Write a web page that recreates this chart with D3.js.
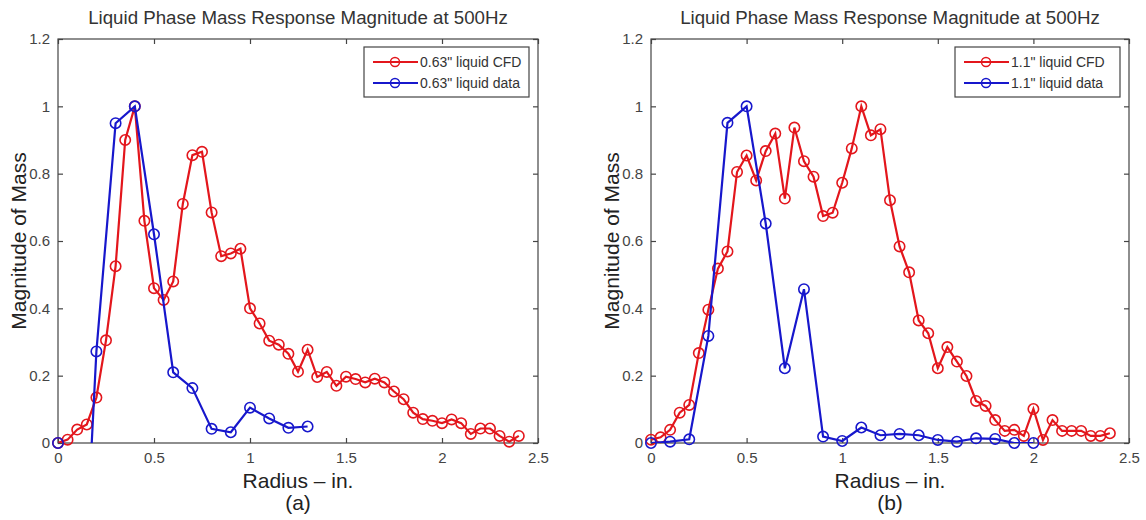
<!DOCTYPE html>
<html>
<head>
<meta charset="utf-8">
<script src="https://cdn.jsdelivr.net/npm/d3@7"></script>
<style>
  body { margin: 0; background: #fff; }
  text { font-family: "Liberation Sans", Arial, sans-serif; }
</style>
</head>
<body>
<div id="vis"></div>
<script>
// radius steps (in.)
const radiusCfd = [0, 0.05, 0.1, 0.15, 0.2, 0.25, 0.3, 0.35, 0.4, 0.45, 0.5, 0.55, 0.6, 0.65, 0.7, 0.75,
  0.8, 0.85, 0.9, 0.95, 1.0, 1.05, 1.1, 1.15, 1.2, 1.25, 1.3, 1.35, 1.4, 1.45, 1.5, 1.55, 1.6, 1.65,
  1.7, 1.75, 1.8, 1.85, 1.9, 1.95, 2.0, 2.05, 2.1, 2.15, 2.2, 2.25, 2.3, 2.35, 2.4];

// (a) 0.63" liquid
const massCfdA = [0, 0.01, 0.04, 0.055, 0.135, 0.305, 0.525, 0.90, 1.0, 0.66, 0.46, 0.425, 0.48, 0.71,
  0.855, 0.865, 0.685, 0.555, 0.563, 0.577, 0.40, 0.355, 0.304, 0.292, 0.265, 0.212, 0.277, 0.196,
  0.211, 0.17, 0.197, 0.19, 0.18, 0.191, 0.18, 0.153, 0.13, 0.09, 0.071, 0.066, 0.059, 0.07, 0.059,
  0.027, 0.043, 0.043, 0.021, 0.004, 0.021];
const radiusDataA = [0, 0.165, 0.2, 0.3, 0.4, 0.5, 0.6, 0.7, 0.8, 0.9, 1.0, 1.1, 1.2, 1.3];
const massDataA = [0, -0.12, 0.272, 0.95, 1.0, 0.62, 0.21, 0.163, 0.042, 0.032, 0.105, 0.073, 0.045, 0.049];

// (b) 1.1" liquid
const massCfdB = [0.01, 0.017, 0.039, 0.09, 0.113, 0.267, 0.396, 0.518, 0.569, 0.805, 0.854, 0.78,
  0.867, 0.919, 0.726, 0.937, 0.837, 0.791, 0.674, 0.684, 0.773, 0.875, 1.0, 0.914, 0.932, 0.721,
  0.584, 0.507, 0.364, 0.326, 0.222, 0.285, 0.242, 0.199, 0.125, 0.11, 0.068, 0.036, 0.039, 0.021,
  0.101, 0.009, 0.068, 0.036, 0.036, 0.036, 0.021, 0.021, 0.029];
const radiusDataB = [0, 0.1, 0.2, 0.3, 0.4, 0.5, 0.6, 0.7, 0.8, 0.9, 1.0, 1.1, 1.2, 1.3, 1.4, 1.5,
  1.6, 1.7, 1.8, 1.9, 2.0];
const massDataB = [0, 0.004, 0.011, 0.318, 0.951, 1.0, 0.652, 0.222, 0.457, 0.019, 0.006, 0.046,
  0.023, 0.027, 0.023, 0.009, 0.004, 0.014, 0.012, 0, 0];

const xTicks = [0, 0.5, 1, 1.5, 2, 2.5];
const yTicks = [0, 0.2, 0.4, 0.6, 0.8, 1, 1.2];
const titleText = "Liquid Phase Mass Response Magnitude at 500Hz";

const red = "#e3161c";
const blue = "#1717cc";

const svg = d3.select("#vis").append("svg")
  .attr("width", 1146)
  .attr("height", 520);

function drawPanel(id, left, right, cfdMass, dataRadius, dataMass, labels, tag) {
  const top = 39, bottom = 443;
  const x = d3.scaleLinear().domain([0, 2.5]).range([left, right]);
  const y = d3.scaleLinear().domain([0, 1.2]).range([bottom, top]);
  const g = svg.append("g");

  g.append("clipPath").attr("id", "clip" + id)
    .append("rect")
    .attr("x", left).attr("y", top)
    .attr("width", right - left).attr("height", bottom - top);

  // box + inward ticks on all sides
  g.append("rect")
    .attr("x", left).attr("y", top)
    .attr("width", right - left).attr("height", bottom - top)
    .attr("fill", "none").attr("stroke", "#444").attr("stroke-width", 1.2);

  const axisStyle = (sel) => {
    sel.select(".domain").remove();
    sel.selectAll("line").attr("stroke", "#444").attr("stroke-width", 1.2);
    sel.selectAll("text").attr("fill", "#444").style("font-size", "15px");
  };

  g.append("g").attr("transform", "translate(0," + bottom + ")")
    .call(d3.axisBottom(x).tickValues(xTicks).tickFormat(d3.format("")).tickSizeInner(-5).tickPadding(9))
    .call(axisStyle);
  g.append("g").attr("transform", "translate(0," + top + ")")
    .call(d3.axisTop(x).tickValues(xTicks).tickFormat("").tickSizeInner(-5))
    .call(axisStyle);
  g.append("g").attr("transform", "translate(" + left + ",0)")
    .call(d3.axisLeft(y).tickValues(yTicks).tickFormat(d3.format("")).tickSizeInner(-5).tickPadding(8))
    .call(axisStyle);
  g.append("g").attr("transform", "translate(" + right + ",0)")
    .call(d3.axisRight(y).tickValues(yTicks).tickFormat("").tickSizeInner(-5))
    .call(axisStyle);

  const series = [
    { color: red, pts: radiusCfd.map((r, i) => [r, cfdMass[i]]), label: labels[0] },
    { color: blue, pts: dataRadius.map((r, i) => [r, dataMass[i]]), label: labels[1] }
  ];

  const line = d3.line().x((d) => x(d[0])).y((d) => y(d[1]));

  series.forEach((s) => {
    g.append("path")
      .datum(s.pts)
      .attr("clip-path", "url(#clip" + id + ")")
      .attr("fill", "none")
      .attr("stroke", s.color)
      .attr("stroke-width", 2.2)
      .attr("d", line);

    g.selectAll(null)
      .data(s.pts.filter((d) => d[1] >= 0))
      .enter().append("circle")
      .attr("cx", (d) => x(d[0]))
      .attr("cy", (d) => y(d[1]))
      .attr("r", 5.2)
      .attr("fill", "none")
      .attr("stroke", s.color)
      .attr("stroke-width", 1.6);
  });

  // Legend
  const lx = right - 174, ly = 47;
  const legend = g.append("g").attr("class", "legend");
  legend.append("rect")
    .attr("x", lx).attr("y", ly)
    .attr("width", 165).attr("height", 50)
    .attr("fill", "#fff").attr("stroke", "#444").attr("stroke-width", 1.2);

  series.forEach((s, i) => {
    const yy = ly + 15 + i * 21;
    legend.append("line")
      .attr("x1", lx + 9).attr("x2", lx + 54)
      .attr("y1", yy).attr("y2", yy)
      .attr("stroke", s.color).attr("stroke-width", 2);
    legend.append("circle")
      .attr("cx", lx + 31).attr("cy", yy).attr("r", 4.5)
      .attr("fill", "none").attr("stroke", s.color).attr("stroke-width", 1.5);
    legend.append("text")
      .attr("x", lx + 56).attr("y", yy + 5)
      .attr("fill", "#333")
      .style("font-size", "14px")
      .text(s.label);
  });

  const cx = (left + right) / 2;

  // Title
  g.append("text")
    .attr("x", cx).attr("y", 24)
    .attr("text-anchor", "middle")
    .attr("fill", "#333")
    .style("font-size", "18.7px")
    .text(titleText);

  // Axis labels
  g.append("text")
    .attr("x", cx).attr("y", 488)
    .attr("text-anchor", "middle")
    .attr("fill", "#222")
    .style("font-size", "21px")
    .text("Radius \u2013 in.");

  g.append("text")
    .attr("x", cx).attr("y", 510)
    .attr("text-anchor", "middle")
    .attr("fill", "#222")
    .style("font-size", "21px")
    .text(tag);

  g.append("text")
    .attr("transform", "translate(" + (left - 32) + "," + ((top + bottom) / 2) + ") rotate(-90)")
    .attr("text-anchor", "middle")
    .attr("fill", "#222")
    .style("font-size", "21px")
    .text("Magnitude of Mass");
}

drawPanel("a", 58, 538, massCfdA, radiusDataA, massDataA,
  ["0.63\" liquid CFD", "0.63\" liquid data"], "(a)");
drawPanel("b", 651, 1129, massCfdB, radiusDataB, massDataB,
  ["1.1\" liquid CFD", "1.1\" liquid data"], "(b)");
</script>
</body>
</html>
